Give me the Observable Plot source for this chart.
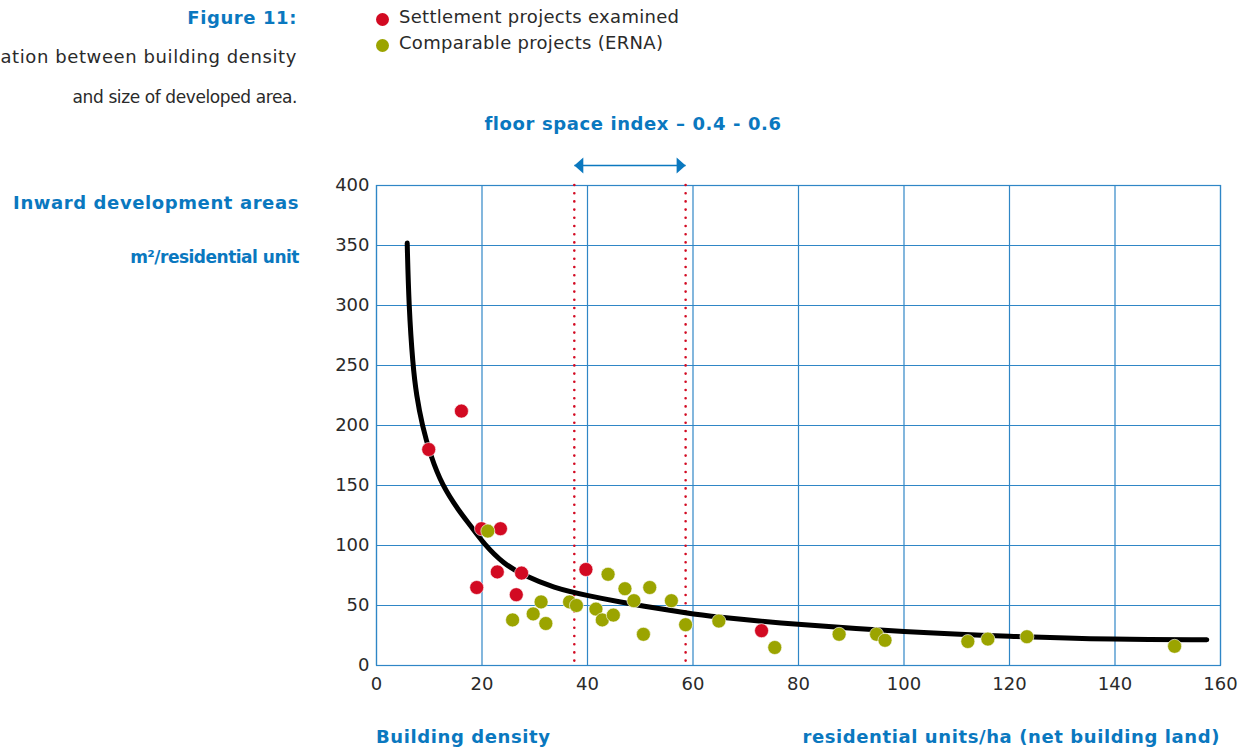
<!DOCTYPE html>
<html>
<head>
<meta charset="utf-8">
<script src="https://cdn.jsdelivr.net/npm/d3@7"></script>
<script src="https://cdn.jsdelivr.net/npm/@observablehq/plot@0.6"></script>
<style>
  html, body { margin: 0; padding: 0; background: #fff; }
  #wrap { position: relative; width: 1253px; height: 749px; overflow: hidden; font-family: "DejaVu Sans", "Liberation Sans", Arial, sans-serif; }
  #wrap svg { position: absolute; left: 0; top: 0; }
  .t { position: absolute; line-height: 1; white-space: nowrap; }
  .blue { color: #0a78bf; font-weight: bold; letter-spacing: 0.6px; }
  .grey { color: #2a2a2a; letter-spacing: 0.3px; }
  .leg { position: absolute; width: 13px; height: 13px; border-radius: 50%; }
</style>
</head>
<body>
<div id="wrap"></div>
<script>
// ---- data ----
const xTicks = [0, 20, 40, 60, 80, 100, 120, 140, 160];
const yTicks = [0, 50, 100, 150, 200, 250, 300, 350, 400];

const seriesNames = ["Settlement projects examined", "Comparable projects (ERNA)"];
const seriesColors = ["#d20a22", "#9ba400"];

const settleX = [9.9, 16.1, 19.0, 19.9, 22.9, 23.5, 26.5, 27.5, 39.7, 73.0];
const settleY = [180, 212, 65, 114, 78, 114, 59, 77, 80, 29];

const ernaX = [21.1, 25.8, 29.7, 31.2, 32.1, 36.6, 37.9, 41.6, 42.8, 43.9, 44.9, 47.1, 48.8, 50.6, 51.8, 55.9, 58.6, 64.9, 75.5, 87.7, 94.8, 96.4, 112.1, 115.9, 123.3, 151.3];
const ernaY = [112, 38, 43, 53, 35, 53, 50, 47, 38, 76, 42, 64, 54, 26, 65, 54, 34, 37, 15, 26, 26, 21, 20, 22, 24, 16];

const curveX = [5.82, 6.13, 6.89, 7.58, 8.66, 10.24, 12.45, 15.6, 17.8, 20.35, 24.1, 27.9, 33.6, 39.9, 46.3, 52.6, 58.9, 63.3, 80, 100, 120, 140, 157.4];
const curveY = [352, 300, 250, 225, 200, 175, 150, 129, 116.7, 101.4, 84.7, 75, 64.7, 58.3, 52.8, 48.1, 43.6, 40.8, 34, 28, 24.2, 21.7, 21.4];

const fsiBounds = [37.5, 58.6];   // floor space index 0.4 - 0.6
const arrowLevel = 416.7;         // y value of the annotation arrow above the frame

// ---- tables ----
const points = [
  ...settleX.map((x, i) => ({x, y: settleY[i], s: seriesNames[0]})),
  ...ernaX.map((x, i) => ({x, y: ernaY[i], s: seriesNames[1]}))
];
const curve = curveX.map((x, i) => ({x, y: curveY[i]}));

const gridColor = "#2f86c6";
const blue = "#0a78bf";

const leftHead = {draw(c) { c.moveTo(0, 0); c.lineTo(9, -8); c.lineTo(9, 8); c.closePath(); }};
const rightHead = {draw(c) { c.moveTo(0, 0); c.lineTo(-9, -8); c.lineTo(-9, 8); c.closePath(); }};

const chart = Plot.plot({
  width: 1253,
  height: 749,
  marginLeft: 376,
  marginRight: 33,
  marginTop: 185,
  marginBottom: 84,
  style: {fontFamily: "'DejaVu Sans', 'Liberation Sans', Arial, sans-serif", fontSize: "18px", color: "#2a2a2a", background: "transparent"},
  x: {domain: [0, 160], ticks: xTicks, label: null},
  y: {domain: [0, 400], ticks: yTicks, label: null},
  color: {domain: seriesNames, range: seriesColors},
  marks: [
    Plot.gridX(xTicks, {stroke: gridColor, strokeOpacity: 1, strokeWidth: 1.2}),
    Plot.gridY(yTicks, {stroke: gridColor, strokeOpacity: 1, strokeWidth: 1.2}),
    Plot.frame({stroke: gridColor, strokeWidth: 1.2}),
    Plot.ruleX(fsiBounds, {stroke: "#d20a22", strokeWidth: 2.6, strokeDasharray: "0,8.2", strokeLinecap: "round"}),
    Plot.link([{x1: fsiBounds[0], x2: fsiBounds[1], y: arrowLevel}], {x1: "x1", x2: "x2", y1: "y", y2: "y", stroke: blue, strokeWidth: 1.6}),
    Plot.dot([{x: fsiBounds[0], y: arrowLevel}], {x: "x", y: "y", symbol: leftHead, fill: blue, stroke: null}),
    Plot.dot([{x: fsiBounds[1], y: arrowLevel}], {x: "x", y: "y", symbol: rightHead, fill: blue, stroke: null}),
    Plot.line(curve, {x: "x", y: "y", stroke: "#000", strokeWidth: 5, curve: "basis", strokeLinecap: "round"}),
    Plot.dot(points, {x: "x", y: "y", fill: "s", r: 7, stroke: "#fff", strokeWidth: 0.6}),
    Plot.axisX(xTicks, {tickSize: 0, tickPadding: 12, fill: "#2a2a2a", fontSize: 18}),
    Plot.axisY(yTicks, {tickSize: 0, tickPadding: 7, fill: "#2a2a2a", fontSize: 18})
  ]
});

const wrap = document.getElementById("wrap");
wrap.appendChild(chart);

function addText(txt, cls, opts) {
  const d = document.createElement("div");
  d.className = "t " + cls;
  d.textContent = txt;
  const fs = opts.fs || 18;
  d.style.fontSize = fs + "px";
  d.style.top = (opts.cy - fs / 2) + "px";
  if (opts.ls != null) d.style.letterSpacing = opts.ls + "px";
  if (opts.right != null) { d.style.right = (1253 - opts.right) + "px"; d.style.textAlign = "right"; }
  if (opts.left != null) d.style.left = opts.left + "px";
  if (opts.center != null) { d.style.left = opts.center + "px"; d.style.transform = "translateX(-50%)"; }
  wrap.appendChild(d);
}

addText("Figure 11:", "blue", {right: 297, cy: 18, fs: 18});
addText("ation between building density", "grey", {right: 297, cy: 57, fs: 18, ls: 0.6});
addText("and size of developed area.", "grey", {right: 297, cy: 97, fs: 17, ls: -0.4});

seriesNames.forEach((n, i) => {
  const dot = document.createElement("div");
  dot.className = "leg";
  dot.style.background = seriesColors[i];
  dot.style.left = (382 - 6.5) + "px";
  dot.style.top = (19 + i * 26 - 6.5) + "px";
  wrap.appendChild(dot);
  addText(n, "grey", {left: 399, cy: 17 + i * 26, fs: 18});
});

addText("floor space index \u2013 0.4 - 0.6", "blue", {center: 633, cy: 124, fs: 18});
addText("Inward development areas", "blue", {right: 299, cy: 203, fs: 18});
addText("m\u00b2/residential unit", "blue", {right: 299, cy: 257, fs: 17, ls: -0.5});
addText("Building density", "blue", {left: 376, cy: 737, fs: 18});
addText("residential units/ha (net building land)", "blue", {right: 1220, cy: 737, fs: 18});
</script>
</body>
</html>
